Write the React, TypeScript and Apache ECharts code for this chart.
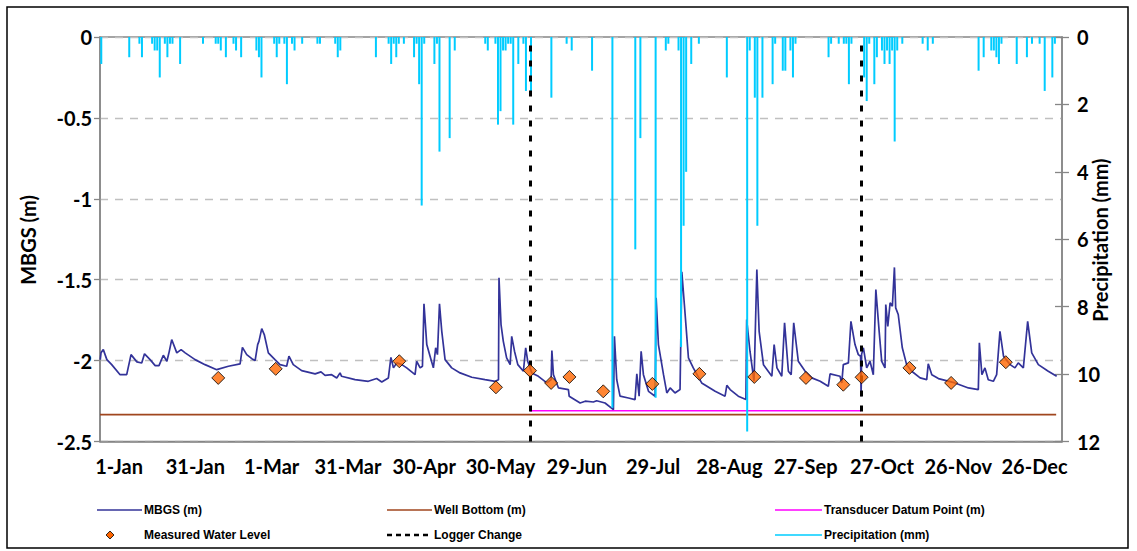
import React, { useEffect, useRef } from "react";
import * as echarts from "echarts";

// ---- Axis ticks (day of year, 0 = 1-Jan) ----
const tickDays = [0, 30, 60, 90, 120, 150, 180, 210, 240, 270, 300, 330, 360];
const tickLabels = ["1-Jan", "31-Jan", "1-Mar", "31-Mar", "30-Apr", "30-May", "29-Jun", "29-Jul", "28-Aug", "27-Sep", "27-Oct", "26-Nov", "26-Dec"];

// ---- MBGS (m): [day, metres] ----
const mbgs: [number, number][] = [
  [-7.4,-1.994],[-7.1,-1.952],[-6.2,-1.932],[-4.8,-1.994],[-2.9,-2.025],[0.4,-2.087],[3.0,-2.087],[4.7,-1.963],[7.0,-2.008],[8.9,-2.015],
  [10.0,-1.958],[12.2,-1.994],[14.2,-2.031],[15.7,-2.031],[17.4,-1.967],[18.8,-2.004],[19.7,-1.946],[20.7,-1.870],[22.7,-1.952],[24.4,-1.932],
  [26.0,-1.952],[29.9,-1.994],[33.8,-2.025],[38.4,-2.056],[43.0,-2.035],[47.6,-2.020],[48.5,-1.918],[50.2,-1.963],[52.2,-1.988],[53.5,-2.000],
  [54.5,-1.901],[55.0,-1.881],[56.1,-1.802],[57.1,-1.839],[58.7,-1.952],[61.3,-1.994],[63.3,-2.025],[65.9,-2.035],[66.8,-1.973],[68.5,-2.025],
  [71.8,-2.062],[77.1,-2.082],[79.4,-2.070],[81.0,-2.091],[83.6,-2.087],[85.6,-2.107],[86.9,-2.076],[87.5,-2.097],[92.8,-2.118],[98.0,-2.128],
  [101.3,-2.111],[103.3,-2.132],[105.9,-2.107],[106.9,-1.980],[107.9,-2.045],[109.2,-2.014],[111.2,-2.025],[113.1,-2.045],[116.4,-2.087],[117.0,-2.004],
  [118.4,-2.045],[119.3,-2.035],[119.9,-1.649],[121.0,-1.901],[122.3,-1.973],[123.6,-2.045],[124.5,-1.921],[125.2,-1.963],[126.0,-1.649],[126.9,-1.819],
  [128.2,-1.994],[130.8,-2.045],[134.1,-2.076],[138.7,-2.103],[143.9,-2.118],[147.9,-2.128],[149.2,-2.118],[149.4,-1.488],[150.2,-1.777],[151.1,-1.881],
  [152.4,-1.983],[153.8,-2.025],[154.4,-1.850],[155.5,-1.942],[156.8,-2.025],[159.0,-2.066],[159.9,-1.921],[160.7,-2.004],[162.3,-2.076],[164.9,-2.097],
  [168.2,-2.138],[169.9,-2.118],[170.2,-1.938],[170.8,-2.087],[172.8,-2.169],[176.7,-2.179],[177.0,-2.220],[181.3,-2.262],[183.3,-2.251],[186.5,-2.256],
  [187.8,-2.248],[191.1,-2.262],[194.4,-2.303],[194.8,-1.850],[195.7,-2.118],[197.0,-2.220],[200.3,-2.231],[202.9,-2.241],[203.6,-2.082],[204.5,-2.220],
  [205.3,-1.942],[206.2,-2.087],[208.2,-2.190],[210.8,-2.220],[211.2,-1.612],[212.1,-1.901],[214.1,-2.087],[215.4,-2.200],[216.7,-2.169],[218.6,-2.200],
  [220.6,-2.179],[221.3,-1.451],[222.3,-1.653],[223.9,-1.983],[225.8,-2.045],[229.1,-2.138],[234.4,-2.190],[238.3,-2.220],[239.0,-2.153],[240.3,-2.179],
  [243.5,-2.220],[246.5,-2.241],[246.8,-1.746],[248.1,-1.942],[249.7,-2.128],[250.8,-1.437],[251.7,-1.819],[253.4,-2.025],[256.7,-2.097],[257.6,-1.901],
  [258.7,-2.045],[260.6,-2.097],[261.7,-1.767],[263.2,-2.066],[264.3,-2.087],[265.3,-1.767],[267.1,-2.004],[269.8,-2.066],[272.4,-2.107],[275.7,-2.128],
  [278.9,-2.159],[279.6,-2.082],[283.5,-2.097],[284.2,-2.138],[284.8,-2.025],[286.8,-2.014],[287.8,-1.757],[289.4,-1.901],[290.7,-1.963],[291.6,-1.973],
  [291.8,-2.220],[292.0,-1.960],[292.7,-1.921],[294.0,-2.045],[295.3,-2.004],[296.6,-2.087],[297.6,-1.561],[298.9,-1.819],[299.9,-2.004],[301.2,-2.045],
  [301.5,-1.653],[302.3,-1.788],[303.2,-1.643],[304.1,-1.664],[304.9,-1.424],[305.4,-1.674],[306.4,-1.715],[308.0,-1.921],[309.7,-2.025],[311.7,-2.066],
  [315.0,-2.107],[317.6,-2.118],[318.2,-2.020],[319.6,-2.087],[322.2,-2.111],[328.7,-2.138],[334.0,-2.169],[337.9,-2.179],[338.3,-1.890],[339.3,-2.087],
  [340.5,-2.045],[341.8,-2.118],[343.8,-2.128],[345.1,-2.087],[346.4,-1.819],[347.8,-1.973],[350.4,-2.025],[352.3,-2.045],[353.6,-2.014],[355.6,-2.045],
  [357.3,-1.757],[358.9,-1.952],[361.5,-2.025],[365.4,-2.066],[368.7,-2.097]
];

// ---- Measured water level: [day, metres] ----
const measured: [number, number][] = [
  [39.0,-2.107],[61.6,-2.051],[110.2,-2.004],[148.2,-2.165],[161.6,-2.062],[169.9,-2.138],[177.1,-2.101],[190.4,-2.190],[209.7,-2.144],
  [228.2,-2.082],[249.8,-2.101],[270.1,-2.107],[284.8,-2.149],[292.0,-2.103],[310.8,-2.045],[327.2,-2.138],[348.7,-2.010]
];

// ---- Well bottom & transducer datum ----
const wellBottomDays = [-7.5, 368.5];
const wellBottomLevel = -2.334;
const datumDays = [161.6, 291.7];
const datumLevel = -2.31;
const loggerChangeDays = [161.6, 291.7];

// ---- Precipitation (mm) ----
const precipDays = [
  -7,4,8,9,13,14,15,16,18,19,20,21,24,33,38,39,40,42,45,46,48,54,55,56,61,62,63,65,66,68,69,72,78,79,85,86,87,
  101,106,107,108,109,110,112,116,117,118,119,120,124,125,126,130,132,144,145,148,149,150,151,152,153,154,155,157,159,160,162,
  170,176,178,186,194,203,205,211,215,216,220,221,222,223,225,228,239,247,248,250,251,253,257,258,261,262,264,265,266,
  279,280,283,285,286,287,288,293,294,295,297,298,300,301,302,303,304,305,306,308,316,318,320,
  338,340,343,344,345,346,347,353,357,359,362,364,367,368
];
const precipMm = [
  0.8,0.6,0.2,0.6,0.2,0.4,0.4,1.2,0.2,0.6,0.2,0.2,0.8,0.2,0.2,0.2,0.4,0.6,0.2,0.4,0.6,0.4,0.6,1.2,0.2,0.6,0.2,0.2,1.4,0.2,0.4,0.2,0.2,0.2,0.2,0.6,0.4,
  0.6,0.2,0.8,0.2,0.6,0.2,0.2,0.6,0.2,1.4,5.0,0.2,0.8,0.2,3.4,3.0,0.4,0.2,0.4,0.2,2.6,2.2,0.4,0.4,0.2,0.2,2.6,0.8,0.2,1.6,1.6,
  1.8,0.2,0.4,1.0,11.0,6.3,3.0,10.7,0.4,0.2,0.4,9.2,5.6,4.0,0.8,0.2,1.2,11.7,0.4,1.8,5.6,1.8,1.4,0.2,1.0,1.0,0.4,1.2,0.2,
  0.6,0.2,0.2,0.2,0.2,1.4,0.2,1.2,1.9,0.2,1.4,0.6,0.4,0.8,0.4,0.8,0.4,3.1,0.4,0.2,0.2,0.4,0.2,
  1.0,0.6,0.4,0.4,0.6,0.8,0.2,0.8,0.6,0.2,0.2,1.6,1.2,0.2
];

const legendNames = ["MBGS (m)", "Well Bottom (m)", "Transducer Datum Point (m)", "Measured Water Level", "Logger Change", "Precipitation (mm)"];

const C_MBGS = "#333399";
const C_WELL = "#A0461E";
const C_DATUM = "#FF00FF";
const C_MEAS = "#FF6600";
const C_PRECIP = "#00CCFF";
const AXIS = "#868686";
const FONT = "Lato";

export default function App() {
  const ref = useRef<HTMLDivElement>(null);
  useEffect(() => {
    const chart = echarts.init(ref.current!, null, { renderer: "svg" });
    const legText = (x: number, y: number, t: string) => ({
      type: "text", x, y,
      style: { text: t, fontSize: 12, fontWeight: "bold", fontFamily: "Liberation Sans", fill: "#000", verticalAlign: "middle", textVerticalAlign: "middle" }
    });
    const option: any = {
      animation: false,
      backgroundColor: "#fff",
      grid: { left: 100, right: 75, top: 37, bottom: 109.5, show: true, borderColor: AXIS, borderWidth: 1.5, backgroundColor: "transparent" },
      xAxis: [{
        type: "value", min: -7.5, max: 370.8,
        axisLine: { show: true, onZero: false, lineStyle: { color: AXIS, width: 1.5 } },
        axisTick: { show: false },
        splitLine: { show: false },
        axisLabel: {
          customValues: tickDays,
          formatter: (v: number) => { const i = tickDays.indexOf(v); return i >= 0 ? tickLabels[i] : ""; },
          fontFamily: FONT, fontWeight: "bold", fontSize: 20, color: "#000", margin: 14
        }
      }],
      yAxis: [
        {
          type: "value", min: -2.5, max: 0, interval: 0.5, position: "left",
          axisLine: { show: true, onZero: false, lineStyle: { color: AXIS, width: 1.5 } },
          axisTick: { show: true, length: 6, lineStyle: { color: AXIS, width: 1.3 } },
          axisLabel: { fontFamily: FONT, fontWeight: "bold", fontSize: 20, color: "#000", margin: 8 },
          splitLine: { show: true, lineStyle: { color: "#C0C0C0", type: [8, 7], width: 1.3 } }
        },
        {
          type: "value", min: 0, max: 12, interval: 2, inverse: true, position: "right",
          axisLine: { show: true, onZero: false, lineStyle: { color: AXIS, width: 1.5 } },
          axisTick: { show: true, length: 7, lineStyle: { color: AXIS, width: 1.3 } },
          axisLabel: { fontFamily: FONT, fontWeight: "bold", fontSize: 20, color: "#000", margin: 15 },
          splitLine: { show: false }
        },
        {
          type: "value", min: 0, max: 12, interval: 2, inverse: true, position: "right",
          axisLine: { show: false, onZero: false },
          axisTick: { show: true, inside: true, length: 7, lineStyle: { color: AXIS, width: 1.3 } },
          axisLabel: { show: false },
          splitLine: { show: false }
        }
      ],
      series: [
        {
          name: "Well Bottom (m)", type: "line", yAxisIndex: 0, symbol: "none", z: 2,
          data: wellBottomDays.map((d) => [d, wellBottomLevel]),
          lineStyle: { color: C_WELL, width: 1.6 },
          markLine: {
            silent: true, symbol: ["none", "none"], label: { show: false },
            lineStyle: { color: "#000", type: [6, 9], width: 3 },
            data: loggerChangeDays.map((d) => ({ xAxis: d }))
          }
        },
        {
          name: "Transducer Datum Point (m)", type: "line", yAxisIndex: 0, symbol: "none", z: 2,
          data: datumDays.map((d) => [d, datumLevel]),
          lineStyle: { color: C_DATUM, width: 1.3 }
        },
        {
          name: "MBGS (m)", type: "line", yAxisIndex: 0, symbol: "none", showSymbol: false, z: 3,
          data: mbgs,
          lineStyle: { color: C_MBGS, width: 1.7 }
        },
        {
          name: "Precipitation (mm)", type: "bar", yAxisIndex: 1, z: 4,
          barWidth: 2,
          data: precipDays.map((d, i) => [d, precipMm[i]]),
          itemStyle: { color: C_PRECIP }
        },
        {
          name: "Measured Water Level", type: "scatter", yAxisIndex: 0, z: 6,
          symbol: "diamond", symbolSize: 13,
          data: measured,
          itemStyle: { color: C_MEAS, borderColor: "#000", borderWidth: 1 }
        }
      ],
      graphic: [
        { type: "rect", shape: { x: 7, y: 7, width: 1121, height: 541 }, style: { fill: "none", stroke: "#000", lineWidth: 1.5 }, silent: true },
        { type: "text", x: 28, y: 240, rotation: Math.PI / 2,
          style: { text: "MBGS (m)", fontSize: 20, fontWeight: "bold", fontFamily: FONT, fill: "#000", align: "center", verticalAlign: "middle", textAlign: "center", textVerticalAlign: "middle" } },
        { type: "text", x: 1100, y: 240, rotation: Math.PI / 2,
          style: { text: "Precipitation (mm)", fontSize: 20, fontWeight: "bold", fontFamily: FONT, fill: "#000", align: "center", verticalAlign: "middle", textAlign: "center", textVerticalAlign: "middle" } },
        // legend row 1
        { type: "line", shape: { x1: 97, y1: 510, x2: 142, y2: 510 }, style: { stroke: C_MBGS, lineWidth: 1.5 } },
        legText(144, 510, legendNames[0]),
        { type: "line", shape: { x1: 387, y1: 510, x2: 432, y2: 510 }, style: { stroke: C_WELL, lineWidth: 1.5 } },
        legText(434, 510, legendNames[1]),
        { type: "line", shape: { x1: 775, y1: 510, x2: 822, y2: 510 }, style: { stroke: C_DATUM, lineWidth: 1.5 } },
        legText(824, 510, legendNames[2]),
        // legend row 2
        { type: "polygon", shape: { points: [[110, 531], [114, 535], [110, 539], [106, 535]] }, style: { fill: C_MEAS, stroke: "#000", lineWidth: 0.8 } },
        legText(144, 535, legendNames[3]),
        { type: "line", shape: { x1: 387, y1: 535, x2: 432, y2: 535 }, style: { stroke: "#000", lineWidth: 2.5, lineDash: [5, 4] } },
        legText(434, 535, legendNames[4]),
        { type: "line", shape: { x1: 775, y1: 535, x2: 822, y2: 535 }, style: { stroke: C_PRECIP, lineWidth: 1.5 } },
        legText(824, 535, legendNames[5])
      ]
    };
    chart.setOption(option);
    return () => chart.dispose();
  }, []);
  return <div ref={ref} style={{ position: "absolute", left: 0, top: 0, width: 1137, height: 551 }} />;
}
